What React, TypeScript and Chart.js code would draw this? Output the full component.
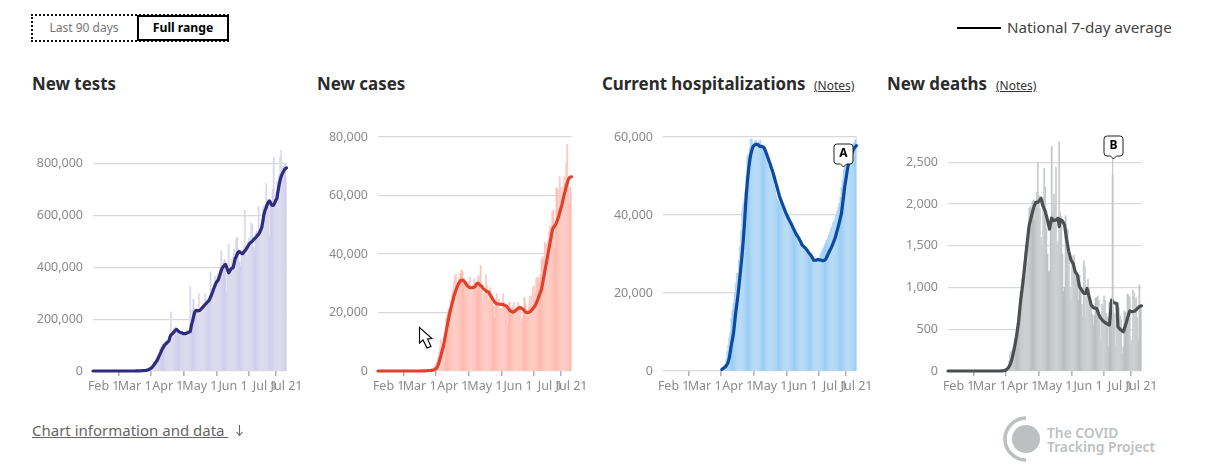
import React, { useEffect, useRef } from "react";
import { Chart, registerables } from "chart.js";

Chart.register(...registerables);

const FONT = '"Noto Sans", sans-serif';

const tickDays = [10, 39, 70, 100, 131, 161, 181];
const tickLabels = ["Feb 1", "Mar 1", "Apr 1", "May 1", "Jun 1", "Jul 1", "Jul 21"];

const zeros40 = new Array(40).fill(0);
const nulls50 = new Array(50).fill(null);

const testsDaily = [...zeros40,
  0,0,500,1000,1500,2000,2000,3000,4000,5000,
  8000,7000,10000,12000,15000,20000,26000,33000,38000,45000,
  52000,60000,70000,85000,95000,105000,100000,112000,108000,118000,
  115000,130000,140000,228000,145000,150000,165000,170000,165000,155000,
  140000,140000,145000,152000,150000,135000,140000,150000,158000,155000,
  150000,324000,200000,235000,276000,230000,225000,235000,240000,298000,
  230000,225000,250000,255000,260000,298000,250000,265000,280000,290000,
  382000,300000,300000,340000,365000,340000,365000,375000,360000,405000,
  463000,400000,420000,430000,410000,305000,390000,487000,380000,400000,
  430000,440000,470000,450000,510000,515000,470000,420000,405000,450000,
  460000,480000,620000,470000,440000,500000,510000,515000,570000,565000,
  480000,465000,530000,540000,530000,635000,545000,560000,580000,630000,
  640000,610000,722000,665000,650000,520000,640000,650000,700000,823000,
  660000,690000,730000,725000,760000,825000,851000,780000,790000,770000,
  800000,745000];
const testsAverage = [...zeros40,
  100,200,300,500,700,900,1100,1400,1700,2000,
  2500,3500,5000,7500,10000,13000,18000,23000,29000,35000,
  41000,50000,59000,68000,78000,86000,93000,100000,104000,108000,
  112000,116000,131000,139000,143000,147000,152000,157000,161000,157000,
  153000,150000,148000,147000,145000,144000,144000,145000,147000,148000,
  150000,152000,176000,190000,208000,224000,232000,234000,232000,233000,
  234000,238000,243000,247000,252000,257000,261000,266000,270000,276000,
  285000,295000,306000,318000,328000,338000,345000,350000,362000,375000,
  388000,398000,403000,408000,411000,400000,388000,378000,386000,392000,
  397000,398000,415000,433000,441000,452000,459000,460000,456000,454000,
  452000,458000,463000,468000,475000,482000,489000,494000,497000,500000,
  505000,510000,513000,518000,523000,528000,535000,545000,556000,580000,
  605000,620000,630000,642000,650000,656000,650000,640000,638000,640000,
  648000,658000,665000,690000,715000,735000,750000,760000,768000,775000,
  781000,783000];

const casesDaily = [...zeros40,
  10,20,30,50,100,150,200,300,350,500,
  600,800,1100,1500,2300,3000,4500,6500,8500,11000,
  7000,9000,11500,12000,18000,19600,21000,20500,24000,26000,
  27500,30500,32500,33000,27000,29000,32000,33500,34500,34000,
  31500,29500,25300,29500,28000,30500,32000,27500,26000,29500,
  31500,28500,27500,30000,32500,29000,36000,29000,23000,26500,
  27500,33000,29500,24500,27000,28500,25000,23500,22000,18000,
  23000,26500,22500,24500,21500,20500,21500,26500,23500,21500,
  21000,16500,21500,23500,21500,20000,22000,23500,21500,20500,
  22000,23500,22500,21000,17000,18000,21500,25000,23000,18500,
  20000,22000,25500,23000,26000,28500,29000,26000,31500,32000,
  32000,30000,33000,38000,39000,38500,44000,43500,40000,44500,
  47500,49500,50000,54500,55000,42000,50500,62500,62000,55500,
  66500,63000,59500,63000,66500,64000,71000,77400,66500,57000,
  62700,61000];
const casesAverage = [...zeros40,
  5,10,20,30,50,80,100,130,160,180,
  200,250,350,500,750,1100,1800,2900,4200,5500,
  7000,8200,10000,12000,14000,16000,17800,19600,21200,22600,
  24000,25500,26700,27700,28700,29600,30200,30800,31000,31050,
  30900,30500,30000,29400,29000,28700,28500,28400,28500,28600,
  28600,28900,29700,30000,29900,29500,29200,29000,28400,28000,
  27700,27400,27200,27100,26600,26000,25400,24800,24200,23700,
  23300,23000,22900,22900,22900,22800,22800,22700,22500,22400,
  22200,21800,21300,20800,20500,20300,20100,20200,20500,20800,
  21000,21400,21600,21700,21500,21200,21000,20600,20200,20000,
  20000,20100,20200,20500,21000,21400,21800,22400,23200,24000,
  25000,26000,27000,28000,30000,32000,34000,36000,38000,40000,
  42000,44000,46000,48000,49000,49500,50000,50800,51800,52800,
  54200,55500,56800,58400,60000,61400,63000,64200,65400,66000,
  66300,66400];

const hospDaily = [...nulls50,
  null,null,null,null,null,null,800,1300,1800,3000,
  5000,6500,8500,10000,13500,15500,17500,20000,22500,25000,
  25000,28500,32000,36000,41000,43000,44000,46000,50000,55000,
  55500,57000,59400,59500,58500,58000,59000,59300,58500,58000,
  58800,59200,58200,57500,57300,56800,55500,54800,54000,52500,
  51500,51000,50500,49000,47500,46500,45000,44000,43500,42500,
  43500,42800,42200,41500,40500,40000,39000,38800,38000,37700,
  37000,36800,36000,35500,35000,34500,34000,33200,33000,32500,
  32000,31500,31300,31000,30800,30200,29800,29500,29400,29000,
  28500,28400,28200,28300,28500,28800,29000,29800,30500,31000,
  31500,32000,32800,33500,34000,34800,35500,36500,37000,38000,
  38500,39000,40000,41000,42000,43000,44500,47000,49000,51500,
  52500,53500,54500,55500,56500,57000,57500,58000,58300,58500,
  59200,59600];
const hospAverage = [...nulls50,
  null,null,null,null,null,400,600,800,1000,1300,
  1700,2400,3400,5000,6800,8200,9800,12300,15000,17000,
  19200,21700,24300,27000,29900,33200,37000,41300,45600,48700,
  51600,53700,55400,56500,57400,57800,58000,58100,58100,58000,
  57700,57600,57600,57500,57400,57000,56300,55600,54800,54000,
  53300,52400,51600,50800,49800,48800,47800,46800,45800,44800,
  44000,43300,42600,41900,41200,40500,39900,39300,38800,38200,
  37700,37100,36500,36000,35400,34900,34500,34100,33500,33000,
  32400,32100,31800,31600,31200,30900,30500,30100,29800,29400,
  28900,28400,28400,28400,28500,28600,28500,28500,28400,28300,
  28300,28400,28600,29100,29700,30300,30900,31400,32000,32700,
  33400,34100,35100,36100,37100,38200,39300,40500,42800,45000,
  47300,49000,50800,52500,53500,54500,55500,56100,56700,57200,
  57500,57800];

const deathsDaily = [...zeros40,
  0,0,1,1,1,2,2,3,3,5,
  5,8,10,15,20,30,60,120,200,240,
  220,280,250,400,450,510,520,560,950,1100,
  1150,1300,1420,1430,1300,1550,1950,1970,1930,2030,
  2050,1800,1950,2140,2500,2100,1950,1600,1500,2070,
  2430,2200,1700,1400,1180,1200,1850,2690,1900,2120,
  2000,2440,1500,1550,2745,1900,1850,1400,950,1000,
  1860,1650,1700,1400,1000,850,1300,1380,1390,1200,
  1100,1050,850,1150,1000,800,650,1320,1250,640,
  1000,1100,990,880,780,680,550,660,870,880,
  900,850,600,370,800,780,900,850,690,650,
  290,820,750,690,2350,700,680,290,640,660,
  760,660,620,210,290,720,700,640,920,900,
  880,330,370,970,940,860,880,640,370,1030,
  800,780];
const deathsAverage = [...zeros40,
  0,0,0,0,0,0,0,0,0,0,
  1,2,3,5,12,20,32,50,72,110,
  150,210,270,340,410,500,590,720,850,950,
  1050,1170,1290,1410,1530,1640,1750,1800,1850,1900,
  1950,1985,2020,2020,2020,2035,2050,2070,2020,1970,
  1940,1910,1860,1810,1750,1700,1770,1830,1815,1800,
  1805,1810,1820,1830,1730,1815,1805,1800,1775,1750,
  1660,1570,1500,1430,1380,1330,1310,1290,1240,1190,
  1170,1150,1080,1010,990,970,950,930,930,930,
  990,940,890,840,790,775,760,755,750,750,
  715,680,650,630,615,600,590,580,570,563,
  556,550,700,850,835,820,815,812,810,530,
  515,500,490,480,470,510,550,590,635,680,
  720,715,710,712,716,720,733,746,760,770,
  775,780];

type Panel = {
  key: string; left: number; daily: (number | null)[]; average: (number | null)[];
  barRgb: number[]; lineColor: string; yMax: number; yTicks: number[];
  marker?: { day: number; label: string; boxTop: number; rule: boolean };
};

const panels: Panel[] = [
  { key: "tests", left: 32, daily: testsDaily, average: testsAverage, barRgb: [207, 205, 232], lineColor: "#2e2c7c", yMax: 902000, yTicks: [0, 200000, 400000, 600000, 800000] },
  { key: "cases", left: 317, daily: casesDaily, average: casesAverage, barRgb: [254, 184, 172], lineColor: "#e0412c", yMax: 80000, yTicks: [0, 20000, 40000, 60000, 80000] },
  { key: "hosp", left: 602, daily: hospDaily, average: hospAverage, barRgb: [153, 204, 244], lineColor: "#0b4a9e", yMax: 60000, yTicks: [0, 20000, 40000, 60000],
    marker: { day: 168, label: "A", boxTop: 144, rule: false } },
  { key: "deaths", left: 887, daily: deathsDaily, average: deathsAverage, barRgb: [183, 188, 188], lineColor: "#4b4f51", yMax: 2803, yTicks: [0, 500, 1000, 1500, 2000, 2500],
    marker: { day: 154, label: "B", boxTop: 136, rule: true } },
];

const CANVAS_TOP = 130;
const BAR_WIDTH = 1.15;

// Reference bars straddle device pixels, which paints periodic lighter bands.
const bandedColor = (rgb: number[]) => (c: any) => {
  const px = c.chart.scales.x.getPixelForValue(c.dataIndex) - 0.5;
  const frac = px - Math.floor(px);
  const d = Math.min(frac, 1 - frac);
  const cover = 1 - 1.2 * d * (1 - d);
  const [r, g, b] = rgb.map((v) => Math.round(255 - (255 - v) * cover));
  return `rgb(${r},${g},${b})`;
};

const markerPlugin = {
  id: "marker",
  afterDatasetsDraw(chart: any, _a: any, opts: any) {
    const m = opts.marker;
    if (!m) return;
    const ctx = chart.ctx;
    const exact = chart.scales.x.getPixelForValue(m.day);
    const x = Math.round(exact) + 0.5;
    const top = m.boxTop - CANVAS_TOP;
    const bh = 20, bw = 19;
    ctx.save();
    if (m.rule) {
      ctx.strokeStyle = "#c6c9c9";
      ctx.lineWidth = 1.2;
      ctx.beginPath();
      ctx.moveTo(exact, top + bh);
      ctx.lineTo(exact, chart.chartArea.bottom);
      ctx.stroke();
    }
    ctx.fillStyle = "#fff";
    ctx.strokeStyle = "#222";
    ctx.lineWidth = 1;
    ctx.beginPath();
    const l = x - bw / 2, r = x + bw / 2, b = top + bh, q = 3;
    ctx.moveTo(l + q, top);
    ctx.lineTo(r - q, top);
    ctx.quadraticCurveTo(r, top, r, top + q);
    ctx.lineTo(r, b - q);
    ctx.quadraticCurveTo(r, b, r - q, b);
    ctx.lineTo(x + 3, b);
    ctx.lineTo(x, b + 3);
    ctx.lineTo(x - 3, b);
    ctx.lineTo(l + q, b);
    ctx.quadraticCurveTo(l, b, l, b - q);
    ctx.lineTo(l, top + q);
    ctx.quadraticCurveTo(l, top, l + q, top);
    ctx.closePath();
    ctx.fill();
    ctx.stroke();
    ctx.fillStyle = "#000";
    ctx.font = `bold 12px ${FONT}`;
    ctx.textAlign = "center";
    ctx.textBaseline = "middle";
    ctx.fillText(m.label, x, top + bh / 2);
    ctx.restore();
  },
};

const noPadding = (s: any) => {
  s.paddingTop = 0;
  s.paddingBottom = 0;
  s.paddingLeft = 0;
  s.paddingRight = 0;
};

function PanelChart({ panel }: { panel: Panel }) {
  const ref = useRef<HTMLCanvasElement>(null);
  useEffect(() => {
    const chart = new Chart(ref.current as HTMLCanvasElement, {
      type: "bar",
      data: {
        datasets: [
          {
            type: "line",
            data: panel.average.map((y, x) => ({ x, y })),
            borderColor: panel.lineColor,
            borderWidth: 3.2,
            pointRadius: 0,
            tension: 0.1,
            order: 0,
            clip: false,
            borderCapStyle: "round",
            borderJoinStyle: "round",
          },
          {
            type: "bar",
            data: panel.daily.map((y, x) => ({ x, y })),
            backgroundColor: bandedColor(panel.barRgb),
            barThickness: BAR_WIDTH,
            order: 1,
          },
        ],
      } as any,
      options: {
        responsive: false,
        animation: false,
        devicePixelRatio: 1,
        layout: { autoPadding: false, padding: { top: 7, right: 15.5, left: 0, bottom: 0 } },
        plugins: { legend: { display: false }, tooltip: { enabled: false }, marker: { marker: panel.marker } } as any,
        scales: {
          x: {
            type: "linear",
            offset: false,
            min: 0,
            max: 181,
            border: { display: false },
            grid: { drawOnChartArea: false, drawTicks: true, tickLength: 5, color: "#b4b4b4", lineWidth: 1.6 },
            afterBuildTicks: (s: any) => { s.ticks = tickDays.map((value) => ({ value })); },
            afterFit: (s: any) => { s.height = 29; noPadding(s); },
            ticks: {
              autoSkip: false,
              maxRotation: 0,
              padding: 3,
              color: "#8a8a8a",
              font: { family: FONT, size: 12.5 },
              callback: (v: any) => tickLabels[tickDays.indexOf(Number(v))],
            },
          },
          y: {
            type: "linear",
            min: 0,
            max: panel.yMax,
            border: { display: false },
            grid: { drawTicks: false, color: "#d9d9d9", lineWidth: 1.2 },
            afterBuildTicks: (s: any) => { s.ticks = panel.yTicks.map((value) => ({ value })); },
            afterFit: (s: any) => { s.width = 61; noPadding(s); },
            ticks: {
              padding: 10,
              color: "#8a8a8a",
              font: { family: FONT, size: 12.5 },
              callback: (v: any) => Number(v).toLocaleString("en-US"),
            },
          },
        },
      },
      plugins: [markerPlugin],
    } as any);
    return () => chart.destroy();
  }, [panel]);
  return (
    <canvas
      ref={ref}
      width={270}
      height={270}
      style={{ position: "absolute", left: panel.left, top: CANVAS_TOP, width: 270, height: 270 }}
    />
  );
}

const abs = (o: React.CSSProperties): React.CSSProperties => ({ position: "absolute", whiteSpace: "nowrap", ...o });

const titles = [
  { text: "New tests", left: 32 },
  { text: "New cases", left: 317 },
  { text: "Current hospitalizations", left: 602 },
  { text: "New deaths", left: 887 },
];
const notes = [814, 996];

export default function App() {
  return (
    <div style={{ position: "absolute", left: 0, top: 0, width: 1216, height: 471, overflow: "hidden", background: "#fff", fontFamily: FONT }}>
      <div style={abs({ left: 31, top: 14, width: 198, height: 28, boxSizing: "border-box", border: "2px dotted #111" })} />
      <div style={abs({ left: 31, top: 14, width: 106, height: 28, lineHeight: "28px", textAlign: "center", fontSize: 12, color: "#767676" })}>Last 90 days</div>
      <div style={abs({ left: 137, top: 15, width: 92, height: 26, boxSizing: "border-box", border: "2px solid #000", lineHeight: "22px", textAlign: "center", fontSize: 12.2, fontWeight: 700, color: "#000", background: "#fff" })}>Full range</div>

      <div style={abs({ left: 957, top: 27, width: 44, height: 2, background: "#000" })} />
      <div style={abs({ left: 1007, top: 16, height: 22, lineHeight: "22px", fontSize: 15.2, color: "#444" })}>National 7-day average</div>

      {titles.map((t) => (
        <div key={t.text} style={abs({ left: t.left, top: 72, height: 24, lineHeight: "24px", fontSize: 16.9, fontWeight: 700, color: "#2b2b2b" })}>{t.text}</div>
      ))}
      {notes.map((x) => (
        <div key={x} style={abs({ left: x, top: 77, height: 18, lineHeight: "18px", fontSize: 12, color: "#333", textDecoration: "underline" })}>(Notes)</div>
      ))}

      {panels.map((p) => <PanelChart key={p.key} panel={p} />)}

      <svg width={16} height={24} style={{ position: "absolute", left: 418, top: 326 }}>
        <polygon points="1.5,1.5 1.5,17 5,14 9,22 13,20.5 9.5,13 14,12.5" fill="#fff" stroke="#000" strokeWidth={1.1} />
      </svg>

      <div style={abs({ left: 32, top: 418, height: 24, lineHeight: "24px", fontSize: 15, color: "#666", textDecoration: "underline" })}>Chart information and data&nbsp;</div>
      <svg width={12} height={14} style={{ position: "absolute", left: 234, top: 424 }}>
        <path d="M5.5 1 V11 M2.5 8 L5.5 11.5 L8.5 8" fill="none" stroke="#666" strokeWidth={1.1} />
      </svg>

      <svg width={60} height={60} style={{ position: "absolute", left: 1000, top: 410 }}>
        <circle cx={26} cy={29} r={14} fill="#bcc0c0" />
        <path d="M26 8 A21 21 0 0 0 26 50" fill="none" stroke="#bcc0c0" strokeWidth={3.5} />
      </svg>
      <div style={abs({ left: 1047, top: 425, lineHeight: "15px", fontSize: 13.8, fontWeight: 600, color: "#bcc0c0" })}>The COVID</div>
      <div style={abs({ left: 1047, top: 439, lineHeight: "15px", fontSize: 13.8, fontWeight: 600, color: "#bcc0c0" })}>Tracking Project</div>
    </div>
  );
}
